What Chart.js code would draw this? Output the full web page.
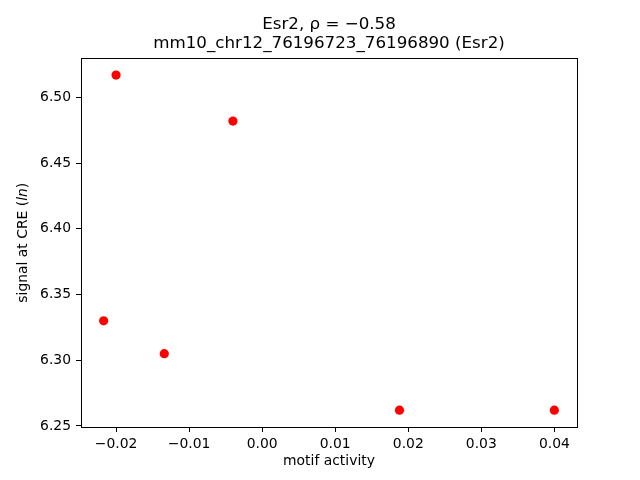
<!DOCTYPE html>
<html>
<head>
  <title>Esr2 motif activity vs CRE signal</title>
  <script src="https://cdn.jsdelivr.net/npm/chart.js"></script>
  <style>
    html, body { margin: 0; padding: 0; background: white; }
    #wrap { width: 640px; height: 480px; }
  </style>
</head>
<body>
  <div id="wrap"><canvas id="scatter" width="640" height="480"></canvas></div>

  <script>
    // values
    const motifActivity = [-0.0200, -0.0040, -0.0217, -0.0134, 0.0188, 0.0400];
    const creSignal = [6.517, 6.482, 6.330, 6.305, 6.262, 6.262];
    const xTicks = [-0.02, -0.01, 0.00, 0.01, 0.02, 0.03, 0.04];
    const yTicks = [6.25, 6.30, 6.35, 6.40, 6.45, 6.50];
    const titleLines = ['Esr2, \u03C1 = \u22120.58', 'mm10_chr12_76196723_76196890 (Esr2)'];

    const font = 'DejaVu Sans';
    const fmt = v => (v < 0 ? '\u2212' : '') + Math.abs(v).toFixed(2);

    // matplotlib-style frame round the axes plus the y label with italic "ln"
    const frame = {
      id: 'frame',
      afterDraw(chart) {
        const { ctx, chartArea: a } = chart;
        ctx.save();
        ctx.strokeStyle = '#000';
        ctx.lineWidth = 1;
        ctx.strokeRect(Math.round(a.left) + 0.5, Math.round(a.top) + 0.5,
          Math.round(a.right - a.left), Math.round(a.bottom - a.top));

        const parts = [['signal at CRE (', 'normal'], ['ln', 'italic'], [')', 'normal']];
        const size = 13.9;
        let total = 0;
        parts.forEach(p => { ctx.font = p[1] + ' ' + size + 'px "' + font + '"'; total += ctx.measureText(p[0]).width; });
        ctx.translate(23, (a.top + a.bottom) / 2);
        ctx.rotate(-Math.PI / 2);
        ctx.fillStyle = '#000';
        ctx.textBaseline = 'middle';
        let x = -total / 2;
        parts.forEach(p => {
          ctx.font = p[1] + ' ' + size + 'px "' + font + '"';
          ctx.fillText(p[0], x, 0);
          x += ctx.measureText(p[0]).width;
        });
        ctx.restore();
      }
    };

    const points = motifActivity.map((v, i) => ({ x: v, y: creSignal[i] }));

    new Chart(document.getElementById('scatter'), {
      type: 'scatter',
      data: {
        datasets: [{
          data: points,
          backgroundColor: 'red',
          borderWidth: 0,
          pointRadius: 4.6,
          pointHoverRadius: 4.6
        }]
      },
      options: {
        responsive: false,
        animation: false,
        layout: { padding: { left: 0, right: 63, top: 0, bottom: 0 } },
        plugins: {
          legend: { display: false },
          tooltip: { enabled: false },
          title: {
            display: true,
            fullSize: false,
            text: titleLines,
            color: '#000',
            font: { family: font, size: 16.7, weight: 'normal', lineHeight: 1.15 },
            padding: { top: 15, bottom: 5 }
          }
        },
        scales: {
          x: {
            type: 'linear',
            min: -0.0248,
            max: 0.0431,
            afterBuildTicks: s => { s.ticks = xTicks.map(v => ({ value: v })); },
            afterFit: s => { s.height = 53; },
            grid: { drawOnChartArea: false, drawTicks: true, tickLength: 5, color: '#000' },
            border: { display: true, color: '#000' },
            ticks: {
              color: '#000', padding: 4, maxRotation: 0,
              font: { family: font, size: 13.9 },
              callback: v => fmt(v)
            },
            title: {
              display: true, text: 'motif activity', color: '#000',
              font: { family: font, size: 13.9 }, padding: { top: 0, bottom: 10 }
            }
          },
          y: {
            type: 'linear',
            min: 6.2492,
            max: 6.5297,
            afterBuildTicks: s => { s.ticks = yTicks.map(v => ({ value: v })); },
            afterFit: s => { s.width = 81; },
            grid: { drawOnChartArea: false, drawTicks: true, tickLength: 5, color: '#000' },
            border: { display: true, color: '#000' },
            ticks: {
              color: '#000', padding: 5,
              font: { family: font, size: 13.9 },
              callback: v => fmt(v)
            }
          }
        }
      },
      plugins: [frame]
    });
  </script>
</body>
</html>
